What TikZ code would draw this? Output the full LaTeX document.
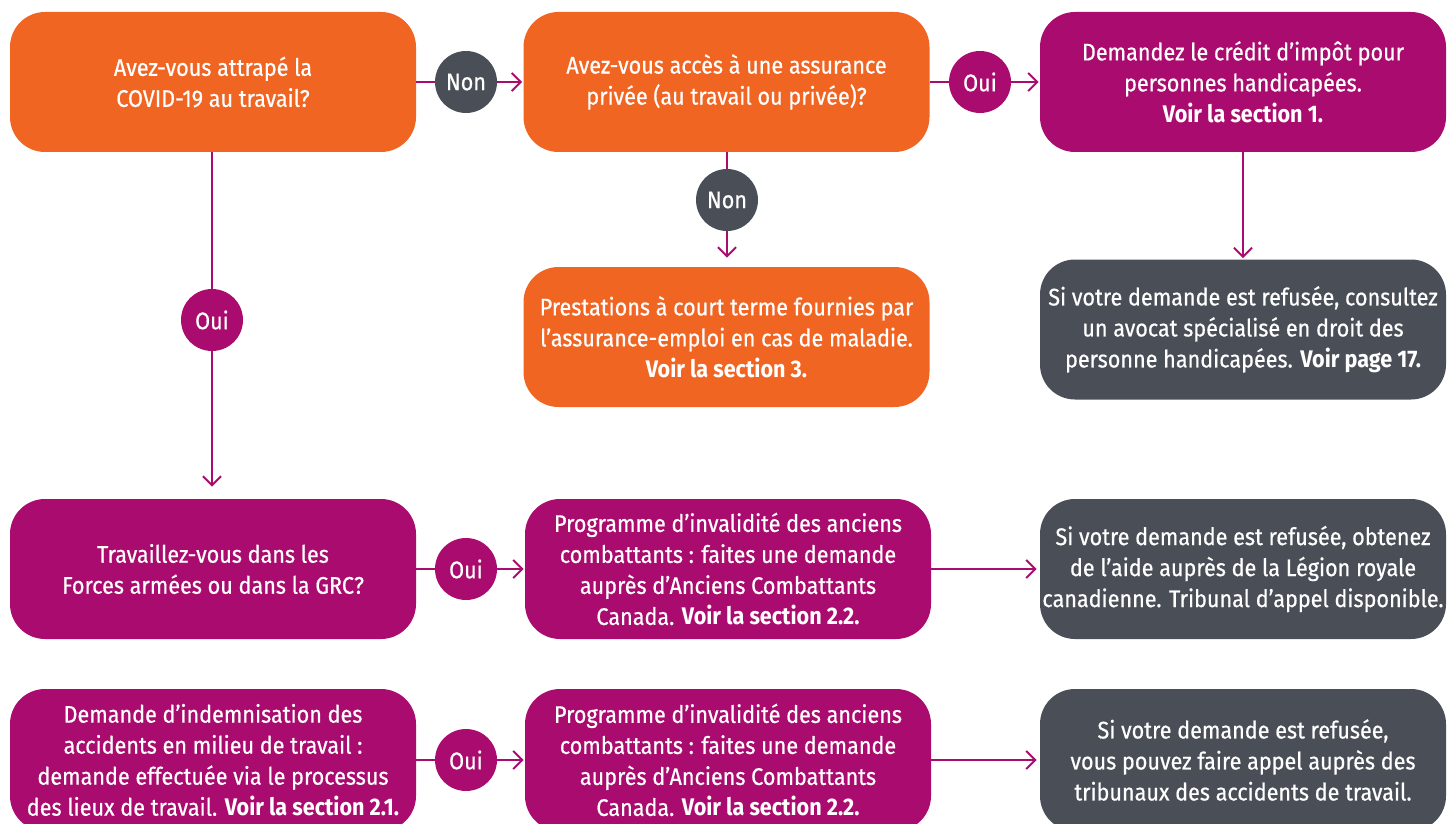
\documentclass[tikz,border=0pt]{standalone}
\usepackage{fontspec}
\setmainfont{Fira Sans}[FakeStretch=0.9, UprightFeatures={FakeBold=0.6}]
\usetikzlibrary{arrows.meta}
\definecolor{orng}{RGB}{241,101,35}
\definecolor{mag}{RGB}{170,11,110}
\definecolor{slate}{RGB}{74,78,87}
\begin{document}
\begin{tikzpicture}[x=0.5pt,y=-0.5pt,
  box/.style={rounded corners=17.5pt, minimum width=203pt, minimum height=70pt,
    align=center, text=white, inner sep=0pt, font=\fontsize{12}{15.5}\selectfont},
  obox/.style={box, fill=orng},
  mbox/.style={box, fill=mag},
  gbox/.style={box, fill=slate},
  circ/.style={circle, minimum size=31pt, inner sep=0pt, text=white,
    font=\fontsize{12}{13}\selectfont},
  mcirc/.style={circ, fill=mag},
  gcirc/.style={circ, fill=slate},
  link/.style={draw=mag, line width=1pt},
  arr/.style={link, -{Straight Barb[length=4.5pt,width=9pt,line width=1pt]}}
]
\useasboundingbox (0,0) rectangle (1452,824);
\clip (0,0) rectangle (1452,824);

\node[obox] (A) at (213,82) {Avez-vous attrapé la\\COVID-19 au travail?};
\node[obox] (B) at (726.5,82) {Avez-vous accès à une assurance\\privée (au travail ou privée)?};
\node[mbox] (C) at (1243,82) {Demandez le crédit d’impôt pour\\personnes handicapées.\\\textbf{Voir la section 1.}};
\node[obox] (D) at (726.5,337) {Prestations à court terme fournies par\\l’assurance-emploi en cas de maladie.\\\textbf{Voir la section 3.}};
\node[gbox] (E) at (1243,329.5) {Si votre demande est refusée, consultez\\un avocat spécialisé en droit des\\personne handicapées. \textbf{Voir page 17.}};
\node[mbox] (F) at (213,569) {Travaillez-vous dans les\\Forces armées ou dans la GRC?};
\node[mbox] (G) at (728,569) {Programme d’invalidité des anciens\\combattants : faites une demande\\auprès d’Anciens Combattants\\Canada. \textbf{Voir la section 2.2.}};
\node[gbox] (H) at (1243,569) {Si votre demande est refusée, obtenez\\de l’aide auprès de la Légion royale\\canadienne. Tribunal d’appel disponible.};
\node[mbox, minimum height=71pt] (I) at (213,760) {Demande d’indemnisation des\\accidents en milieu de travail :\\demande effectuée via le processus\\des lieux de travail. \textbf{Voir la section 2.1.}};
\node[mbox, minimum height=71pt] (J) at (728,760) {Programme d’invalidité des anciens\\combattants : faites une demande\\auprès d’Anciens Combattants\\Canada. \textbf{Voir la section 2.2.}};
\node[gbox, minimum height=71pt] (K) at (1243,760) {Si votre demande est refusée,\\vous pouvez faire appel auprès des\\tribunaux des accidents de travail.};

\node[gcirc] (n1) at (466,82) {Non};
\node[mcirc] (o1) at (980,82) {Oui};
\node[gcirc] (n2) at (727,200) {Non};
\node[mcirc] (o2) at (212,320) {Oui};
\node[mcirc] (o3) at (466,569) {Oui};
\node[mcirc] (o4) at (466,760) {Oui};

\draw[link] (A.east) -- (n1.west);
\draw[arr, shorten >=0.5pt] (n1.east) -- (B.west);
\draw[link] (B.east) -- (o1.west);
\draw[arr, shorten >=0.5pt] (o1.east) -- (C.west);
\draw[link] (B.south -| n2.north) -- (n2.north);
\draw[arr, shorten >=4.5pt] (n2.south) -- (n2.south |- D.north);
\draw[arr, shorten >=0.5pt] (C.south) -- (E.north);
\draw[link] (A.south -| o2.north) -- (o2.north);
\draw[arr, shorten >=6pt] (o2.south) -- (o2.south |- F.north);
\draw[link] (F.east) -- (o3.west);
\draw[arr, shorten >=0.5pt] (o3.east) -- (G.west);
\draw[arr, shorten >=1.5pt] (G.east) -- (H.west);
\draw[link] (I.east |- o4.west) -- (o4.west);
\draw[arr, shorten >=0.5pt] (o4.east) -- (o4.east -| J.west);
\draw[arr, shorten >=1.5pt] (J.east |- o4.east) -- (J.east -| K.west);
\end{tikzpicture}
\end{document}
